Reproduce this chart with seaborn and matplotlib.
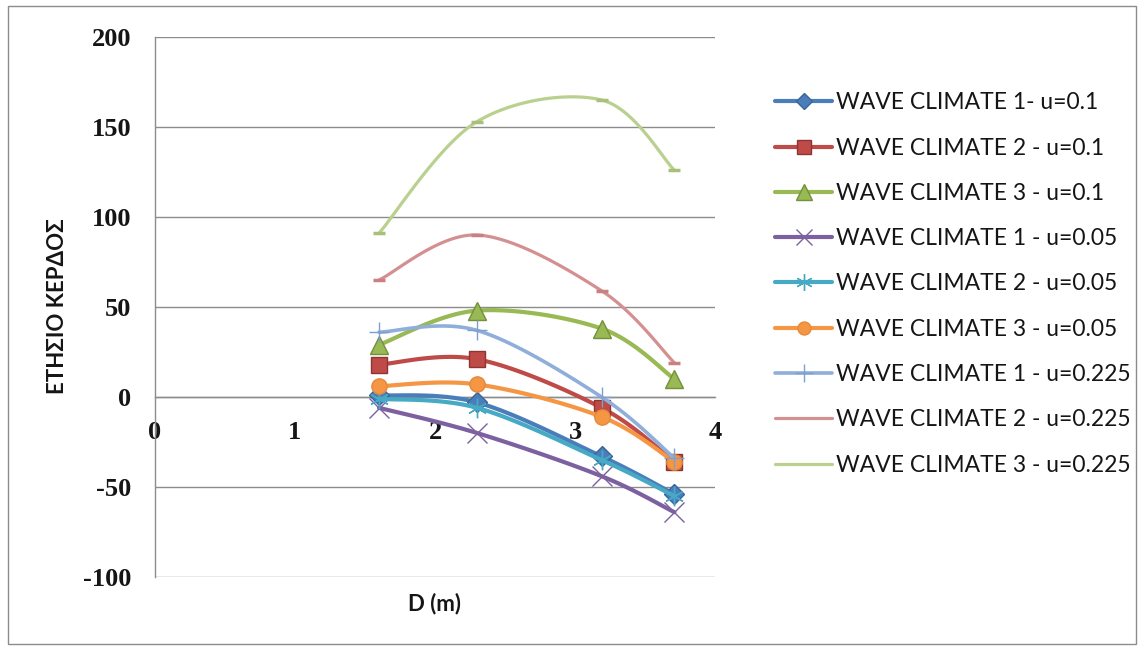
import numpy as np
import pandas as pd
import matplotlib
matplotlib.use("Agg")
import matplotlib.pyplot as plt
from matplotlib.lines import Line2D
from matplotlib.patches import Rectangle
import seaborn as sns

# Depth values (m) on the x axis
depth = [1.6, 2.3, 3.19, 3.71]

# Annual profit for each wave climate / u combination
wc1_u010 = [1, -3, -33, -54]
wc2_u010 = [18, 21, -6, -36]
wc3_u010 = [29, 48, 38, 10]
wc1_u005 = [-6, -20, -44, -64]
wc2_u005 = [-1, -6, -35, -55]
wc3_u005 = [6, 7, -11, -36]
wc1_u0225 = [36, 37, 0, -34]
wc2_u0225 = [65, 90, 59, 19]
wc3_u0225 = [91, 153, 165, 126]

labels = [
    "WAVE CLIMATE 1- u=0.1",
    "WAVE CLIMATE 2 - u=0.1",
    "WAVE CLIMATE 3 - u=0.1",
    "WAVE CLIMATE 1 - u=0.05",
    "WAVE CLIMATE 2 - u=0.05",
    "WAVE CLIMATE 3 - u=0.05",
    "WAVE CLIMATE 1 - u=0.225",
    "WAVE CLIMATE 2 - u=0.225",
    "WAVE CLIMATE 3 - u=0.225",
]
values = [wc1_u010, wc2_u010, wc3_u010, wc1_u005, wc2_u005, wc3_u005,
          wc1_u0225, wc2_u0225, wc3_u0225]

# Per-series styling: colour, marker edge colour, marker, marker size, edge width, line width
styles = [
    dict(color="#4A7EBB", mec="#3A659A", marker="D", ms=10, mew=1.0, lw=3.0),
    dict(color="#BE4B48", mec="#8E3431", marker="s", ms=12, mew=1.0, lw=3.0),
    dict(color="#98B954", mec="#73903A", marker="^", ms=13, mew=1.0, lw=3.0),
    dict(color="#7D60A0", mec="#7D60A0", marker="x", ms=14, mew=1.0, lw=3.0),
    dict(color="#46AAC5", mec="#46AAC5", marker=(6, 2, 0), ms=14, mew=1.0, lw=3.0),
    dict(color="#F59645", mec="#E58A3A", marker="o", ms=11, mew=1.0, lw=3.0),
    dict(color="#8FAEDA", mec="#7F9FCC", marker="+", ms=15, mew=1.0, lw=2.6),
    dict(color="#D48F90", mec="#C98082", marker="_", ms=9, mew=2.5, lw=2.3),
    dict(color="#B9D08E", mec="#A9C07A", marker="_", ms=9, mew=2.5, lw=2.3),
]

SEG = 40  # curve samples per segment


def smooth_curve(xs, ys, n=SEG):
    """Cubic Bezier smoothing through the points (spreadsheet-style smoothed line)."""
    pts = np.column_stack([xs, ys]).astype(float)
    m = len(pts)
    out = [pts[0]]
    t = np.linspace(0, 1, n)[1:, None]
    for i in range(m - 1):
        p0 = pts[i - 1] if i > 0 else pts[i]
        p1 = pts[i]
        p2 = pts[i + 1]
        p3 = pts[i + 2] if i + 2 < m else pts[i + 1]
        c1 = p1 + (p2 - p0) / 6.0
        c2 = p2 - (p3 - p1) / 6.0
        seg = ((1 - t) ** 3) * p1 + 3 * ((1 - t) ** 2) * t * c1 \
            + 3 * (1 - t) * (t ** 2) * c2 + (t ** 3) * p2
        out.extend(seg)
    return np.array(out)


sns.set_style("white")
plt.rcParams["font.family"] = ["Lato", "DejaVu Sans"]
plt.rcParams["axes.unicode_minus"] = False

W, H = 1144, 648
fig = plt.figure(figsize=(W / 100, H / 100), dpi=100)
ax_l, ax_r, ax_t, ax_b = 155, 715, 37, 577
ax = fig.add_axes([ax_l / W, 1 - ax_b / H, (ax_r - ax_l) / W, (ax_b - ax_t) / H])

grid_col = "#8C8C8C"
yticks = [-100, -50, 0, 50, 100, 150, 200]
for yv in yticks:
    ax.axhline(yv, color=grid_col, lw=1.0, zorder=0)

marker_idx = [i * (SEG - 1) for i in range(len(depth))]
for lab, vals, st in zip(labels, values, styles):
    curve = smooth_curve(depth, vals)
    df = pd.DataFrame({"D": curve[:, 0], "profit": curve[:, 1]})
    sns.lineplot(data=df, x="D", y="profit", sort=False, estimator=None, ax=ax,
                 color=st["color"], lw=st["lw"], marker=st["marker"],
                 markevery=marker_idx, ms=st["ms"], mew=st["mew"],
                 mfc=st["color"], mec=st["mec"], legend=False, zorder=3)

ax.set_xlim(0, 4)
ax.set_ylim(-100, 200)
ax.set_xticks([0, 1, 2, 3, 4])
ax.set_yticks(yticks)

for s in ["top", "right"]:
    ax.spines[s].set_visible(False)
ax.spines["left"].set_color(grid_col)
ax.spines["left"].set_linewidth(1.0)
ax.spines["bottom"].set_position(("data", 0))
ax.spines["bottom"].set_color(grid_col)
ax.spines["bottom"].set_linewidth(1.0)

ax.tick_params(axis="both", length=0)
ax.tick_params(axis="y", pad=17)
ax.tick_params(axis="x", pad=17)
for t in ax.get_xticklabels() + ax.get_yticklabels():
    t.set_fontfamily(["Liberation Serif", "DejaVu Serif"])
    t.set_fontsize(19)
    t.set_fontweight("bold")
    t.set_color("#151515")

ax.set_xlabel("")
ax.set_ylabel("")
fig.text(435 / W, 1 - 604 / H, "D (m)", ha="center", va="center",
         fontsize=16, fontweight="bold", color="#151515")
fig.text(58 / W, 1 - 306 / H, "ΕΤΗΣΙΟ ΚΕΡΔΟΣ", ha="center", va="center",
         rotation=90, fontsize=16, fontweight="bold", color="#151515")

# Legend
handles = []
for st in styles:
    mk = st["marker"] if st["marker"] != "_" else "None"
    handles.append(Line2D([], [], color=st["color"], lw=st["lw"], marker=mk,
                          ms=st["ms"] * 0.85, mew=st["mew"], mfc=st["color"],
                          mec=st["mec"]))
leg = fig.legend(handles, labels, loc="center left",
                 bbox_to_anchor=(775 / W, 1 - 284 / H),
                 frameon=False, fontsize=16.5, handlelength=2.5,
                 handletextpad=0.17, labelspacing=1.06, borderpad=0,
                 borderaxespad=0)
for t in leg.get_texts():
    t.set_color("#151515")

# Outer chart frame
fig.patches.append(Rectangle((8 / W, 4 / H), 1128 / W, 638 / H,
                             transform=fig.transFigure, fill=False,
                             edgecolor="#8C8C8C", lw=1.0))

fig.savefig("out.png", dpi=100)
